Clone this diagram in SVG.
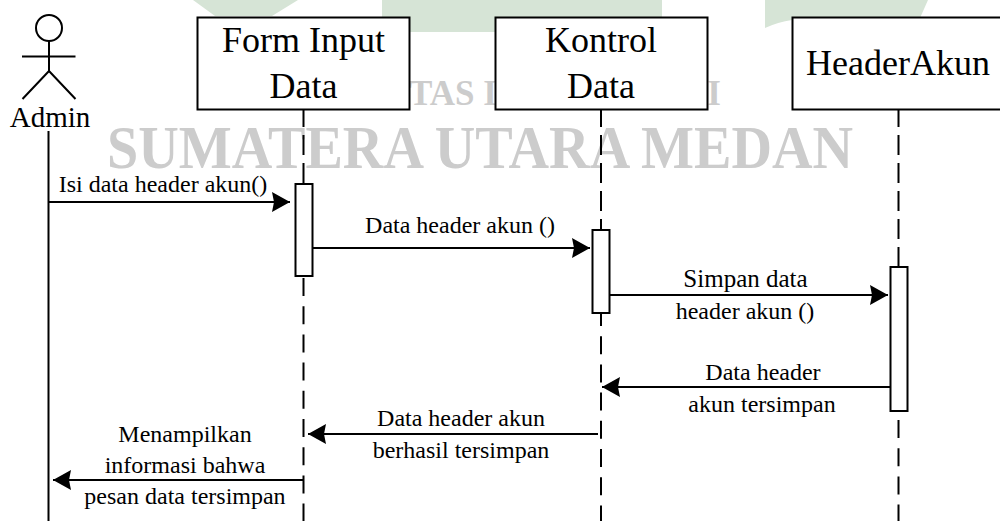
<svg xmlns="http://www.w3.org/2000/svg" width="1000" height="521" viewBox="0 0 1000 521">
<style>
text{font-family:"Liberation Serif","Times New Roman",serif;fill:#000;text-anchor:middle}
.h{font-size:36px}
.m{font-size:24px}
.wm{fill:#cccccc;font-weight:bold}
.box{fill:#fff;stroke:#000;stroke-width:2}
.act{fill:#fff;stroke:#000;stroke-width:2}
.ln{stroke:#000;stroke-width:2;fill:none}
.life{stroke:#000;stroke-width:2;fill:none;stroke-dasharray:18 10.2}
.top{stroke-dasharray:18 8 20 8 20 8 20 8 20 8 20 8 20}
.msg{stroke:#000;stroke-width:2;fill:none}
.g{fill:#d6e4d6}
</style>
<defs>
<marker id="arr" viewBox="0 0 18 20" refX="18" refY="10" markerWidth="18" markerHeight="20" markerUnits="userSpaceOnUse" orient="auto-start-reverse"><path d="M0 0L18 10L0 20L2 10Z" fill="#000"/></marker>
</defs>
<rect width="1000" height="521" fill="#fff"/>
<g id="watermark">
<path class="g" d="M193 0H298L272 16H215Z"/>
<path class="g" d="M382 0H662V32H382Z"/>
<path class="g" d="M765 0H928L920 18H792V20Q778 22 765 28Z"/>
<text class="wm" x="453" y="105" style="font-size:35px">TAS I</text>
<text class="wm" x="714" y="105" style="font-size:35px">I</text>
<text class="wm" x="480" y="168" style="font-size:62px" textLength="746" lengthAdjust="spacingAndGlyphs">SUMATERA UTARA MEDAN</text>
</g>
<g id="connectors">
<line class="life top" x1="303.5" y1="109" x2="303.5" y2="184"/>
<line class="life" x1="303.5" y1="278" x2="303.5" y2="521"/>
<line class="life top" x1="601" y1="109" x2="601" y2="230"/>
<line class="life" x1="601" y1="308" x2="601" y2="521"/>
<line class="life top" x1="898.5" y1="109" x2="898.5" y2="267"/>
<line class="life" x1="898.5" y1="420" x2="898.5" y2="521"/>
<line class="ln" x1="48.500" y1="131" x2="48.500" y2="521"/>
<line class="msg" x1="49" y1="202" x2="290" y2="202" marker-end="url(#arr)"/>
<line class="msg" x1="313" y1="248" x2="590" y2="248" marker-end="url(#arr)"/>
<line class="msg" x1="610" y1="295" x2="888" y2="295" marker-end="url(#arr)"/>
<line class="msg" x1="890" y1="387" x2="602" y2="387" marker-end="url(#arr)"/>
<line class="msg" x1="598" y1="434" x2="308" y2="434" marker-end="url(#arr)"/>
<line class="msg" x1="303" y1="480" x2="53" y2="480" marker-end="url(#arr)"/>
</g>
<g id="admin">
<circle class="ln" cx="49" cy="28" r="13"/>
<path class="ln" d="M22 56.500H75.500M49 41V71M22.500 99L49 71L75.500 99"/>
<text x="50" y="127" style="font-size:29px">Admin</text>
</g>
<g id="form-input-data">
<rect class="box" x="197.500" y="17.500" width="212" height="92"/>
<text class="h" x="303.500" y="52">Form Input</text>
<text class="h" x="303.500" y="98">Data</text>
</g>
<g id="kontrol-data">
<rect class="box" x="495.500" y="17.500" width="212" height="92"/>
<text class="h" x="601" y="52">Kontrol</text>
<text class="h" x="601" y="98">Data</text>
</g>
<g id="header-akun">
<rect class="box" x="792.500" y="17.500" width="212" height="92"/>
<text class="h" x="898" y="75">HeaderAkun</text>
</g>
<g id="act-form"><rect class="act" x="295.500" y="184" width="17" height="92"/></g>
<g id="act-kontrol"><rect class="act" x="592.500" y="230" width="17" height="83"/></g>
<g id="act-header"><rect class="act" x="890.500" y="267" width="17" height="144"/></g>
<g id="labels">
<text class="m" x="163" y="192">Isi data header akun()</text>
<text class="m" x="460" y="233">Data header akun ()</text>
<text class="m" x="745.500" y="287" style="font-size:25px">Simpan data</text>
<text class="m" x="745" y="319">header akun ()</text>
<text class="m" x="763" y="380">Data header</text>
<text class="m" x="762" y="412">akun tersimpan</text>
<text class="m" x="461" y="426">Data header akun</text>
<text class="m" x="461" y="458">berhasil tersimpan</text>
<text class="m" x="185" y="442">Menampilkan</text>
<text class="m" x="185" y="473">informasi bahwa</text>
<text class="m" x="185" y="504">pesan data tersimpan</text>
</g>
</svg>
